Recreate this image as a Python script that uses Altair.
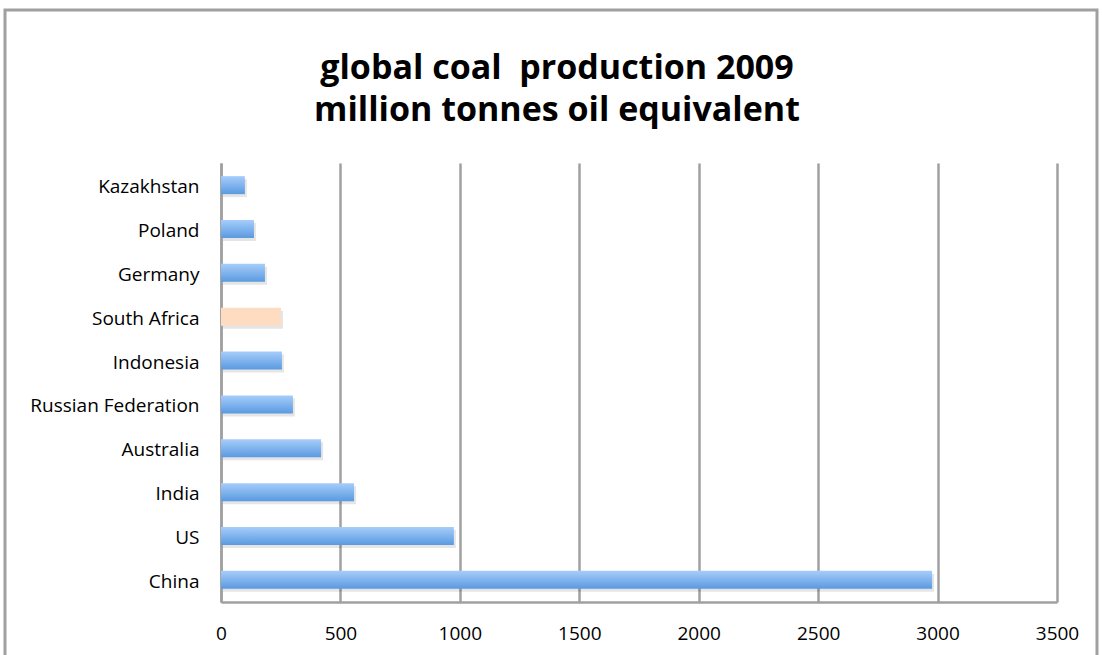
import altair as alt
import pandas as pd

countries = ["Kazakhstan", "Poland", "Germany", "South Africa", "Indonesia",
             "Russian Federation", "Australia", "India", "US", "China"]
values = [100, 138, 184, 251, 255, 301, 419, 557, 975, 2977]
highlight = [False, False, False, True, False, False, False, False, False, False]
x_ticks = [0, 500, 1000, 1500, 2000, 2500, 3000, 3500]
title_lines = ["global coal\u00a0 production 2009", "million tonnes oil equivalent"]

df = pd.DataFrame({"country": countries, "value": values, "hl": highlight})

FONT = "Open Sans"

y_enc = alt.Y("country:N", sort=countries, title=None,
              scale=alt.Scale(paddingInner=0.59, paddingOuter=0.3),
              axis=alt.Axis(labelFontSize=19, labelColor="#000000", labelFont=FONT,
                            labelPadding=22, labelOffset=2, ticks=False, domain=True,
                            domainColor="#a0a0a0", domainWidth=2.5, grid=False))
x_enc = alt.X("value:Q", title=None,
              scale=alt.Scale(domain=[0, 3500], nice=False),
              axis=alt.Axis(values=x_ticks, format="d", labelFontSize=19,
                            labelColor="#000000", labelFont=FONT, labelPadding=22,
                            ticks=False, domain=True, domainColor="#a0a0a0",
                            domainWidth=2.5, grid=True, gridColor="#a0a0a0",
                            gridWidth=2.5, labelFlush=False))

base = alt.Chart(df)

shadow = base.mark_bar(color="#000000", opacity=0.10, xOffset=2, yOffset=3).encode(x=x_enc, y=y_enc)

blue = base.transform_filter("!datum.hl").mark_bar(
    color=alt.Gradient(gradient="linear",
                       stops=[alt.GradientStop(color="#a6cdfb", offset=0),
                              alt.GradientStop(color="#5a9ae0", offset=1)],
                       x1=0, x2=0, y1=0, y2=1)
).encode(x=x_enc, y=y_enc)

peach = base.transform_filter("datum.hl").mark_bar(color="#fddcc1").encode(x=x_enc, y=y_enc)

frame = alt.Chart(pd.DataFrame({"a": [0]})).mark_rect(
    fill=None, stroke="#a0a0a0", strokeWidth=3
).encode(x=alt.value(-216), x2=alt.value(876), y=alt.value(-153), y2=alt.value(560))


def title_line(txt, ypos):
    return alt.Chart(pd.DataFrame({"t": [txt]})).mark_text(
        font=FONT, fontSize=34, fontWeight="bold", color="#000000",
        align="center", baseline="middle"
    ).encode(text="t:N", x=alt.value(336), y=alt.value(ypos))


t1 = title_line(title_lines[0], -94)
t2 = title_line(title_lines[1], -52)

chart = alt.layer(shadow, blue, peach, frame, t1, t2).properties(
    width=836, height=439,
    padding={"left": 221, "top": 163, "right": 45, "bottom": 53},
    autosize=alt.AutoSizeParams(type="none"),
).configure(background="#ffffff").configure_view(stroke=None)

chart.save("out.html", embed_options={"renderer": "svg", "actions": False})
